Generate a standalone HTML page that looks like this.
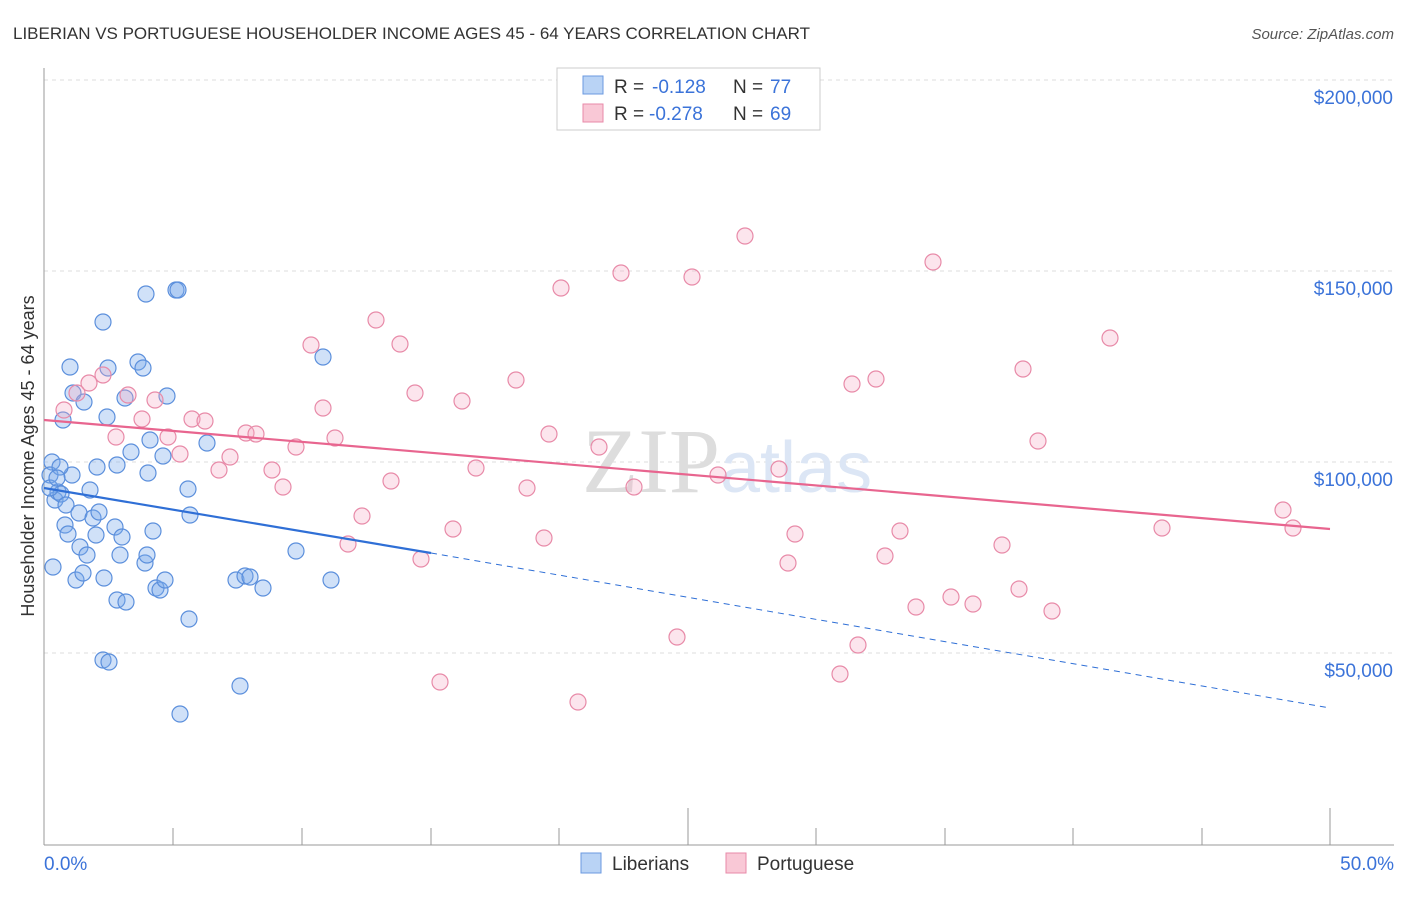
<!DOCTYPE html>
<html><head><style>
body{margin:0;background:#fff;font-family:"Liberation Sans",sans-serif}
</style></head><body>
<svg width="1406" height="892" xmlns="http://www.w3.org/2000/svg" font-family="Liberation Sans, sans-serif">
<text x="13" y="39" font-size="17" fill="#333">LIBERIAN VS PORTUGUESE HOUSEHOLDER INCOME AGES 45 - 64 YEARS CORRELATION CHART</text>
<text x="1394" y="39" font-size="15" fill="#555" text-anchor="end" font-style="italic">Source: ZipAtlas.com</text>
<g stroke="#ddd" stroke-dasharray="4,4">
<line x1="44" x2="1394" y1="80" y2="80"/><line x1="44" x2="1394" y1="271" y2="271"/>
<line x1="44" x2="1394" y1="462" y2="462"/><line x1="44" x2="1394" y1="653" y2="653"/>
</g>
<line x1="44" y1="68" x2="44" y2="845" stroke="#999"/>
<line x1="44" y1="845" x2="1394" y2="845" stroke="#999"/>
<g stroke="#999">
<line x1="173" x2="173" y1="828" y2="845"/><line x1="302" x2="302" y1="828" y2="845"/><line x1="431" x2="431" y1="828" y2="845"/><line x1="559" x2="559" y1="828" y2="845"/><line x1="688" x2="688" y1="808" y2="845"/><line x1="816" x2="816" y1="828" y2="845"/><line x1="945" x2="945" y1="828" y2="845"/><line x1="1073" x2="1073" y1="828" y2="845"/><line x1="1202" x2="1202" y1="828" y2="845"/><line x1="1330" x2="1330" y1="808" y2="845"/>
</g>
<g font-size="19" fill="#3b73d9" text-anchor="end">
<text x="1393" y="104">$200,000</text><text x="1393" y="295">$150,000</text><text x="1393" y="486">$100,000</text><text x="1393" y="677">$50,000</text>
</g>
<text x="44" y="870" font-size="19" fill="#3b73d9">0.0%</text>
<text x="1394" y="870" font-size="19" fill="#3b73d9" text-anchor="end">50.0%</text>
<text transform="translate(34,456) rotate(-90)" font-size="18" fill="#333" text-anchor="middle">Householder Income Ages 45 - 64 years</text>
<text x="720" y="492" font-size="92" fill="#ddd" text-anchor="end" font-family="Liberation Serif, serif">ZIP</text>
<text x="720" y="492" font-size="72" fill="#dce6f5">atlas</text>
<g fill="rgba(120,170,235,0.35)" stroke="#5b8fdc" stroke-width="1.2">
<circle cx="52" cy="462" r="8"/><circle cx="50" cy="475" r="8"/><circle cx="55" cy="500" r="8"/><circle cx="58" cy="492" r="8"/><circle cx="61" cy="494" r="8"/><circle cx="53" cy="567" r="8"/><circle cx="63" cy="420" r="8"/><circle cx="70" cy="367" r="8"/><circle cx="73" cy="393" r="8"/><circle cx="84" cy="402" r="8"/><circle cx="72" cy="475" r="8"/><circle cx="60" cy="467" r="8"/><circle cx="66" cy="505" r="8"/><circle cx="65" cy="525" r="8"/><circle cx="68" cy="534" r="8"/><circle cx="76" cy="580" r="8"/><circle cx="80" cy="547" r="8"/><circle cx="79" cy="513" r="8"/><circle cx="83" cy="573" r="8"/><circle cx="87" cy="555" r="8"/><circle cx="90" cy="490" r="8"/><circle cx="93" cy="518" r="8"/><circle cx="96" cy="535" r="8"/><circle cx="97" cy="467" r="8"/><circle cx="99" cy="512" r="8"/><circle cx="103" cy="322" r="8"/><circle cx="104" cy="578" r="8"/><circle cx="107" cy="417" r="8"/><circle cx="108" cy="368" r="8"/><circle cx="103" cy="660" r="8"/><circle cx="109" cy="662" r="8"/><circle cx="115" cy="527" r="8"/><circle cx="117" cy="600" r="8"/><circle cx="117" cy="465" r="8"/><circle cx="122" cy="537" r="8"/><circle cx="120" cy="555" r="8"/><circle cx="126" cy="602" r="8"/><circle cx="125" cy="398" r="8"/><circle cx="131" cy="452" r="8"/><circle cx="138" cy="362" r="8"/><circle cx="143" cy="368" r="8"/><circle cx="146" cy="294" r="8"/><circle cx="145" cy="563" r="8"/><circle cx="147" cy="555" r="8"/><circle cx="148" cy="473" r="8"/><circle cx="150" cy="440" r="8"/><circle cx="153" cy="531" r="8"/><circle cx="156" cy="588" r="8"/><circle cx="160" cy="590" r="8"/><circle cx="163" cy="456" r="8"/><circle cx="165" cy="580" r="8"/><circle cx="167" cy="396" r="8"/><circle cx="176" cy="290" r="8"/><circle cx="178" cy="290" r="8"/><circle cx="180" cy="714" r="8"/><circle cx="188" cy="489" r="8"/><circle cx="190" cy="515" r="8"/><circle cx="189" cy="619" r="8"/><circle cx="207" cy="443" r="8"/><circle cx="236" cy="580" r="8"/><circle cx="240" cy="686" r="8"/><circle cx="245" cy="576" r="8"/><circle cx="250" cy="577" r="8"/><circle cx="263" cy="588" r="8"/><circle cx="296" cy="551" r="8"/><circle cx="323" cy="357" r="8"/><circle cx="331" cy="580" r="8"/><circle cx="50" cy="488" r="8"/><circle cx="57" cy="478" r="8"/>
</g>
<g fill="rgba(245,170,195,0.3)" stroke="#e88aa8" stroke-width="1.2">
<circle cx="64" cy="410" r="8"/><circle cx="77" cy="393" r="8"/><circle cx="89" cy="383" r="8"/><circle cx="103" cy="375" r="8"/><circle cx="116" cy="437" r="8"/><circle cx="128" cy="395" r="8"/><circle cx="142" cy="419" r="8"/><circle cx="155" cy="400" r="8"/><circle cx="168" cy="437" r="8"/><circle cx="180" cy="454" r="8"/><circle cx="192" cy="419" r="8"/><circle cx="205" cy="421" r="8"/><circle cx="219" cy="470" r="8"/><circle cx="230" cy="457" r="8"/><circle cx="246" cy="433" r="8"/><circle cx="256" cy="434" r="8"/><circle cx="272" cy="470" r="8"/><circle cx="283" cy="487" r="8"/><circle cx="296" cy="447" r="8"/><circle cx="311" cy="345" r="8"/><circle cx="323" cy="408" r="8"/><circle cx="335" cy="438" r="8"/><circle cx="362" cy="516" r="8"/><circle cx="348" cy="544" r="8"/><circle cx="376" cy="320" r="8"/><circle cx="391" cy="481" r="8"/><circle cx="400" cy="344" r="8"/><circle cx="415" cy="393" r="8"/><circle cx="421" cy="559" r="8"/><circle cx="440" cy="682" r="8"/><circle cx="453" cy="529" r="8"/><circle cx="462" cy="401" r="8"/><circle cx="476" cy="468" r="8"/><circle cx="516" cy="380" r="8"/><circle cx="527" cy="488" r="8"/><circle cx="544" cy="538" r="8"/><circle cx="549" cy="434" r="8"/><circle cx="561" cy="288" r="8"/><circle cx="578" cy="702" r="8"/><circle cx="599" cy="447" r="8"/><circle cx="621" cy="273" r="8"/><circle cx="634" cy="487" r="8"/><circle cx="677" cy="637" r="8"/><circle cx="692" cy="277" r="8"/><circle cx="718" cy="475" r="8"/><circle cx="745" cy="236" r="8"/><circle cx="779" cy="469" r="8"/><circle cx="788" cy="563" r="8"/><circle cx="795" cy="534" r="8"/><circle cx="852" cy="384" r="8"/><circle cx="858" cy="645" r="8"/><circle cx="840" cy="674" r="8"/><circle cx="876" cy="379" r="8"/><circle cx="885" cy="556" r="8"/><circle cx="900" cy="531" r="8"/><circle cx="916" cy="607" r="8"/><circle cx="933" cy="262" r="8"/><circle cx="951" cy="597" r="8"/><circle cx="973" cy="604" r="8"/><circle cx="1002" cy="545" r="8"/><circle cx="1019" cy="589" r="8"/><circle cx="1023" cy="369" r="8"/><circle cx="1038" cy="441" r="8"/><circle cx="1052" cy="611" r="8"/><circle cx="1110" cy="338" r="8"/><circle cx="1162" cy="528" r="8"/><circle cx="1283" cy="510" r="8"/><circle cx="1293" cy="528" r="8"/>
</g>
<line x1="44" y1="488" x2="431" y2="553" stroke="#2f6fd6" stroke-width="2.2"/>
<line x1="431" y1="553" x2="1330" y2="708" stroke="#2f6fd6" stroke-width="1" stroke-dasharray="6,5"/>
<line x1="44" y1="420" x2="1330" y2="529" stroke="#e8658f" stroke-width="2.2"/>
<rect x="557" y="68" width="263" height="62" fill="#fff" stroke="#ccc"/>
<rect x="583" y="76" width="20" height="18" fill="#b9d3f5" stroke="#6b9ae0"/>
<rect x="583" y="104" width="20" height="18" fill="#f9c8d6" stroke="#e88aa8"/>
<g font-size="19">
<text x="614" y="93" fill="#333">R = </text><text x="652" y="93" fill="#3b73d9">-0.128</text><text x="733" y="93" fill="#333">N = </text><text x="770" y="93" fill="#3b73d9">77</text>
<text x="614" y="120" fill="#333">R = </text><text x="649" y="120" fill="#3b73d9">-0.278</text><text x="733" y="120" fill="#333">N = </text><text x="770" y="120" fill="#3b73d9">69</text>
</g>
<rect x="581" y="853" width="20" height="20" fill="#b9d3f5" stroke="#6b9ae0"/>
<text x="612" y="870" font-size="19" fill="#333">Liberians</text>
<rect x="726" y="853" width="20" height="20" fill="#f9c8d6" stroke="#e88aa8"/>
<text x="757" y="870" font-size="19" fill="#333">Portuguese</text>
</svg>
</body></html>
